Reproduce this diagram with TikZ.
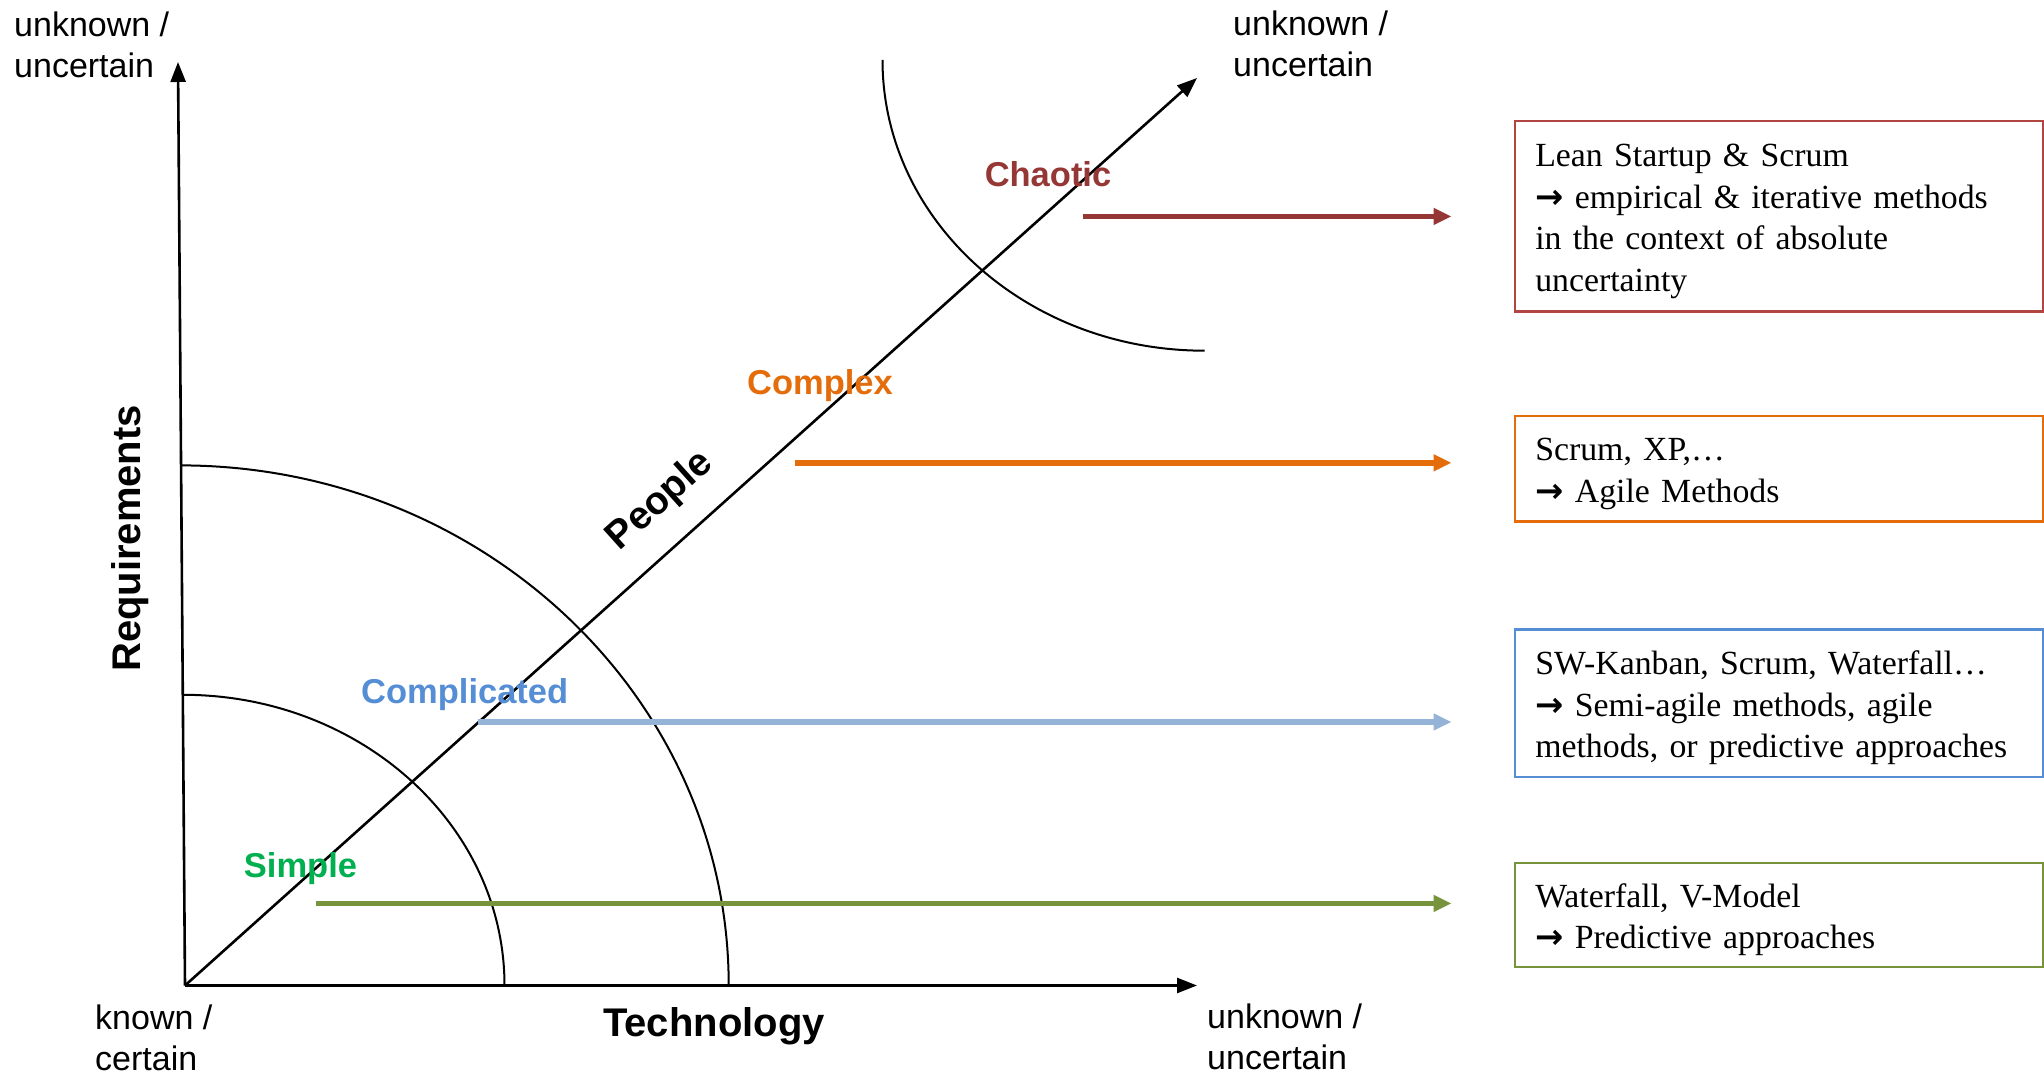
\documentclass[tikz,border=0pt]{standalone}
\usepackage{fontspec}
\setmainfont{Liberation Serif}
\setsansfont{Liberation Sans}
\newfontfamily\dejavu{DejaVu Sans}
\usetikzlibrary{arrows.meta}
\definecolor{chaosC}{HTML}{953735}
\definecolor{chaosB}{HTML}{B04542}
\definecolor{complexC}{HTML}{E46C0A}
\definecolor{complLbl}{HTML}{558ED5}
\definecolor{complArr}{HTML}{95B3D7}
\definecolor{simpleLbl}{HTML}{00B050}
\definecolor{simpleArr}{HTML}{77933C}
\tikzset{
  axisline/.style={line width=2.6pt, -{Triangle[length=20pt,width=15pt]}},
  curveline/.style={line width=2pt},
  flow/.style={line width=5.5pt, -{Triangle[length=18pt,width=16pt]}, shorten >=62pt},
  methodbox/.style={draw, line width=2.5pt, anchor=west, minimum width=528.5pt,
    text width=487.5pt, inner xsep=20.5pt, inner ysep=0pt, align=left,
    font=\fontsize{33.8}{41.5}\selectfont},
  lbl/.style={font=\sffamily\fontsize{34}{41.5}\selectfont, align=left, inner sep=0pt},
  biglbl/.style={font=\sffamily\bfseries\fontsize{40}{48}\selectfont, inner sep=0pt},
  zone/.style={font=\sffamily\bfseries\fontsize{34.5}{41.5}\selectfont, inner sep=0pt},
}
\newcommand{\arr}{{\dejavu\bfseries →}}
\newcommand{\topstrut}{\rule{0pt}{33pt}}
\begin{document}
\begin{tikzpicture}[x=1pt,y=1pt]
\useasboundingbox (0,0) rectangle (2044,1073);
% axes
\coordinate (O) at (185,87.5);
\coordinate (T) at (178,1011);
\coordinate (X) at (1197,87.5);
\coordinate (D) at (1197,995);
\draw[axisline] (O) -- (T);
\draw[axisline] (O) -- (X);
\draw[axisline] (O) -- (D);
% arcs
\draw[curveline] (183,378.2) arc[start angle=90,end angle=0,x radius=321.5,y radius=290.7];
\draw[curveline] (180,607.6) arc[start angle=90,end angle=0,x radius=548.7,y radius=520];
\draw[curveline] (882.5,1013) arc[start angle=180,end angle=270,x radius=322,y radius=290.7];
% axis labels
\node[lbl, anchor=west] (tl) at (14,1028) {unknown /\\uncertain};
\node[lbl, anchor=west] (tr) at (1233,1029) {unknown /\\uncertain};
\node[lbl, anchor=west] (br) at (1207,36) {unknown /\\uncertain};
\node[lbl, anchor=west] (bl) at (95,35) {known /\\certain};
\node[biglbl] (tech) at (714,47) {Technology};
\node[biglbl, rotate=90] (req) at (130.5,534.6) {Requirements};
\node[font=\sffamily\bfseries\fontsize{39}{46}\selectfont, inner sep=0pt, rotate=41.9] (people) at (660.5,572) {People};
% zone labels
\node[zone, text=chaosC] (chaotic) at (1048,899) {Chaotic};
\node[zone, text=complexC] (complex) at (820,687) {Complex};
\node[zone, text=complLbl] (complicated) at (464.7,378.2) {Complicated};
\node[zone, text=simpleLbl] (simple) at (300.5,204.8) {Simple};
% boxes
\node[methodbox, draw=chaosB, minimum height=190.6pt] (bchaos) at (1513.5,856.7)
  {\topstrut Lean Startup \& Scrum\\\arr{} empirical \& iterative methods\\in the context of absolute\\uncertainty};
\node[methodbox, draw=complexC, minimum height=105.6pt] (bcomplex) at (1513.5,604.4)
  {\topstrut Scrum, XP,…\\\arr{} Agile Methods};
\node[methodbox, draw=complLbl, minimum height=147.4pt] (bcompl) at (1513.5,369.7)
  {\topstrut SW-Kanban, Scrum, Waterfall…\\\arr{} Semi-agile methods, agile\\methods, or predictive approaches};
\node[methodbox, draw=simpleArr, minimum height=104.3pt] (bsimple) at (1513.5,157.9)
  {\topstrut Waterfall, V-Model\\\arr{} Predictive approaches};
% flows
\coordinate (fa) at (1083,856.6);
\coordinate (fb) at (795,610.2);
\coordinate (fc) at (478,351);
\coordinate (fd) at (315.5,169.6);
\draw[flow, chaosC] (fa) -- (fa -| bchaos.west);
\draw[flow, complexC] (fb) -- (fb -| bcomplex.west);
\draw[flow, complArr] (fc) -- (fc -| bcompl.west);
\draw[flow, simpleArr] (fd) -- (fd -| bsimple.west);
\end{tikzpicture}
\end{document}
